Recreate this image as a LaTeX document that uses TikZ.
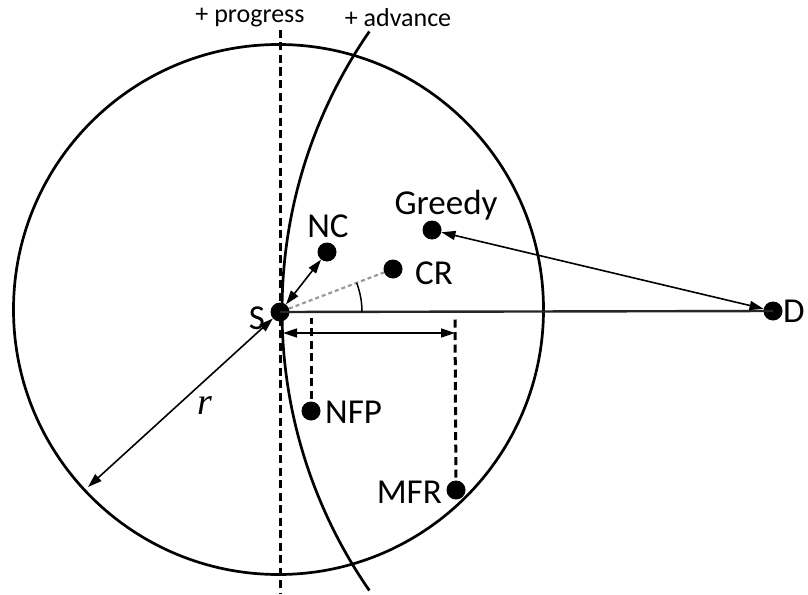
\documentclass[tikz,border=0pt]{standalone}
\usepackage{fontspec}
\setmainfont{Carlito}
\newfontfamily\rfont{Liberation Serif}
\usetikzlibrary{arrows.meta,calc}
\begin{document}
\begin{tikzpicture}[x=1pt,y=-1pt,
  dot/.style={circle,fill=black,inner sep=0pt,minimum size=19pt},
  lbl/.style={font=\fontsize{35}{40}\selectfont,inner sep=0pt},
  toplbl/.style={font=\fontsize{26}{30}\selectfont,inner sep=0pt},
  dbl/.style={line width=1.6pt,{Triangle[length=14pt,width=9pt]}-{Triangle[length=14pt,width=9pt]}},
  progline/.style={line width=3pt,dash pattern=on 8pt off 4.5pt},
  thinline/.style={line width=2.7pt}]
\useasboundingbox (0,0) rectangle (808,594);
% main circle
\draw[thinline] (278.5,309.5) circle[radius=265];
% nodes
\node[dot] (S) at (280,312) {};
\node[dot] (D) at (773,311) {};
\node[dot] (NC) at (327,252) {};
\node[dot] (CR) at (393,269) {};
\node[dot] (G) at (432,230) {};
\node[dot] (NFP) at (311,411) {};
\node[dot] (MFR) at (456,490) {};
\coordinate (rtip) at (88,487);
\coordinate (ha) at (283,333);
\coordinate (hb) at (455,333);
\coordinate (pt) at (280,30);
\coordinate (pb) at (280,594);
% progress line
\draw[progline] (pt) -- (pb);
% advance arc centred at D
\draw[thinline] ($(D)+(145.3:491)$) arc[start angle=145.3,end angle=214.7,radius=491];
% S--D line
\draw[line width=2.4pt,black!85] (S.center) -- (D.center);
% connectors
\draw[dbl] (S) -- (NC);
\draw[dbl] (G) -- (D);
\draw[dbl] (S) -- (rtip);
\draw[dbl] (ha) -- (hb);
\draw[line width=2.2pt,gray!80,dash pattern=on 4pt off 3pt] (S) -- (CR);
\draw[line width=1.5pt] ($(S.center)+(82,0)$) arc[start angle=0,end angle=-20.8,radius=82];
\draw[progline] (NFP.center) -- (311,318);
\draw[progline] (MFR.center) -- (455,318);
% labels
\node[lbl] (lS) at (257,318) {S};
\node[lbl,anchor=west] (lD) at (783,311) {D};
\node[lbl] (lNC) at (328,226) {NC};
\node[lbl] (lCR) at (434,273) {CR};
\node[lbl] (lG) at (446,205) {Greedy};
\node[lbl,anchor=west] (lNFP) at (325,412) {NFP};
\node[lbl,anchor=east] (lMFR) at (442,492) {MFR};
\node[lbl,font=\fontsize{38}{42}\rfont\itshape] (lr) at (205,406) {r};
\node[toplbl] (lprog) at (250,18) {+ progress};
\node[toplbl] (ladv) at (398,18) {+ advance};
\end{tikzpicture}
\end{document}
